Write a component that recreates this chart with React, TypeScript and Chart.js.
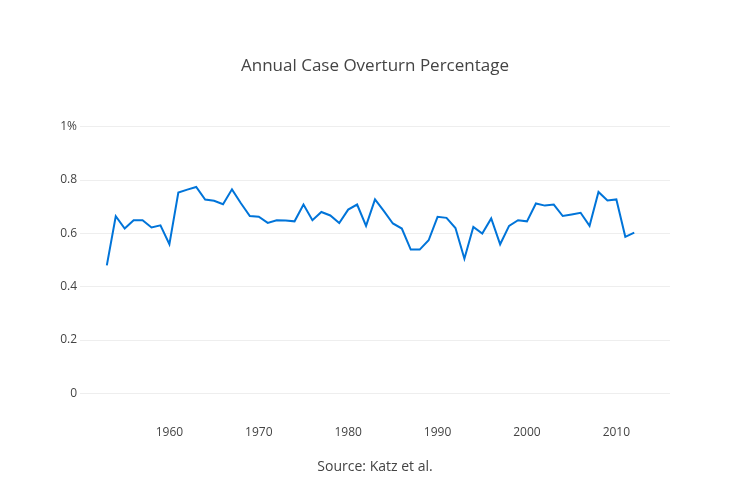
import React, { useEffect, useRef } from 'react';
import { Chart, registerables } from 'chart.js';

Chart.register(...registerables);

const years: number[] = [
  1953, 1954, 1955, 1956, 1957, 1958, 1959, 1960, 1961, 1962,
  1963, 1964, 1965, 1966, 1967, 1968, 1969, 1970, 1971, 1972,
  1973, 1974, 1975, 1976, 1977, 1978, 1979, 1980, 1981, 1982,
  1983, 1984, 1985, 1986, 1987, 1988, 1989, 1990, 1991, 1992,
  1993, 1994, 1995, 1996, 1997, 1998, 1999, 2000, 2001, 2002,
  2003, 2004, 2005, 2006, 2007, 2008, 2009, 2010, 2011, 2012,
];

const overturnRate: number[] = [
  0.480, 0.664, 0.618, 0.649, 0.649, 0.622, 0.630, 0.559, 0.753, 0.764,
  0.774, 0.727, 0.722, 0.709, 0.765, 0.713, 0.665, 0.662, 0.639, 0.649,
  0.648, 0.645, 0.708, 0.649, 0.680, 0.667, 0.639, 0.689, 0.708, 0.628,
  0.727, 0.683, 0.637, 0.618, 0.539, 0.539, 0.574, 0.662, 0.658, 0.620,
  0.505, 0.624, 0.599, 0.656, 0.559, 0.628, 0.649, 0.645, 0.712, 0.704,
  0.708, 0.665, 0.671, 0.677, 0.628, 0.755, 0.723, 0.727, 0.587, 0.603,
];

const xTicks: number[] = [1960, 1970, 1980, 1990, 2000, 2010];
const yTicks: number[] = [0, 0.2, 0.4, 0.6, 0.8, 1];

const FONT = '"Open Sans", sans-serif';

const App: React.FC = () => {
  const canvasRef = useRef<HTMLCanvasElement | null>(null);
  const chartRef = useRef<Chart | null>(null);

  useEffect(() => {
    const canvas = canvasRef.current;
    if (!canvas) return;

    chartRef.current = new Chart(canvas, {
      type: 'line',
      data: {
        datasets: [
          {
            data: years.map((y, i) => ({ x: y, y: overturnRate[i] })),
            borderColor: '#0074d9',
            borderWidth: 2,
            pointRadius: 0,
            tension: 0,
            fill: false,
          },
        ],
      },
      options: {
        animation: false,
        responsive: false,
        maintainAspectRatio: false,
        layout: { padding: 0 },
        plugins: {
          legend: { display: false },
          tooltip: { enabled: false },
          title: {
            display: true,
            text: 'Annual Case Overturn Percentage',
            color: '#444',
            font: { family: FONT, size: 17, weight: 'normal' },
            padding: { top: 56, bottom: 23.6 },
          },
        },
        scales: {
          x: {
            type: 'linear',
            min: 1950,
            max: 2016,
            afterBuildTicks: (scale: any) => {
              scale.ticks = xTicks.map((v) => ({ value: v }));
            },
            afterFit: (scale: any) => {
              scale.height = 80;
            },
            grid: { display: false, drawTicks: false },
            border: { display: false },
            ticks: {
              color: '#444',
              font: { family: FONT, size: 12 },
              padding: 5,
              maxRotation: 0,
              callback: (v: any) => String(v),
            },
            title: {
              display: true,
              text: 'Source: Katz et al.',
              color: '#444',
              font: { family: FONT, size: 14 },
              padding: { top: 0, bottom: 24.5 },
            },
          },
          y: {
            type: 'linear',
            min: -0.1,
            max: 1.1,
            afterBuildTicks: (scale: any) => {
              scale.ticks = yTicks.map((v) => ({ value: v }));
            },
            afterFit: (scale: any) => {
              scale.width = 80;
            },
            grid: { color: '#eee', lineWidth: 1, drawTicks: false },
            border: { display: false },
            ticks: {
              color: '#444',
              font: { family: FONT, size: 12 },
              padding: 3,
              callback: (v: any) => (v === 1 ? '1%' : String(Math.round(v * 10) / 10)),
            },
          },
          // empty right-hand axis: reserves the 80px right margin so the title stays centred
          yRight: {
            type: 'linear',
            position: 'right',
            min: 0,
            max: 1,
            afterFit: (scale: any) => {
              scale.width = 80;
            },
            grid: { display: false, drawTicks: false },
            border: { display: false },
            ticks: { display: false },
          },
        },
      },
    });

    return () => {
      if (chartRef.current) {
        chartRef.current.destroy();
        chartRef.current = null;
      }
    };
  }, []);

  return (
    <div style={{ position: 'absolute', left: 0, top: 0, width: 750, height: 500, background: '#fff' }}>
      <canvas ref={canvasRef} width={750} height={500} style={{ width: 750, height: 500 }} />
    </div>
  );
};

export default App;
